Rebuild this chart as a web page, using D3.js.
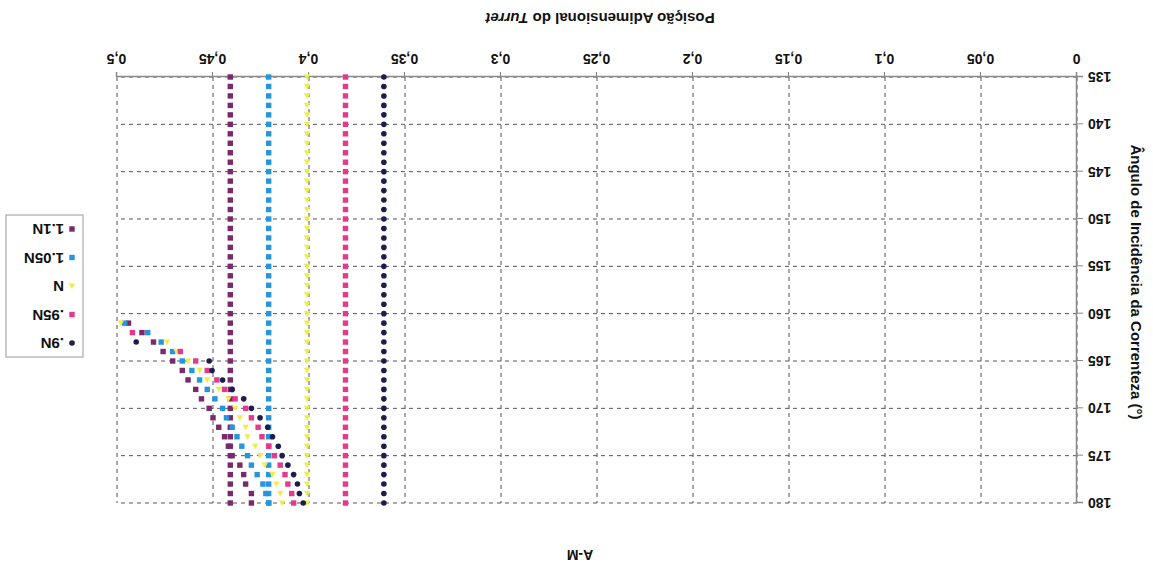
<!DOCTYPE html>
<html>
<head>
<meta charset="utf-8">
<script src="https://cdn.jsdelivr.net/npm/d3@7"></script>
<style>
  body { margin: 0; background: #fff; }
  svg { display: block; }
  text { font-family: "Liberation Sans", Arial, sans-serif; font-weight: bold; fill: #111; }
</style>
</head>
<body>
<svg id="chart" width="1153" height="574"></svg>
<script>
// angles (degrees) of the first branch, 135..180
var angles = [135, 136, 137, 138, 139, 140, 141, 142, 143, 144, 145, 146, 147, 148, 149, 150,
    151, 152, 153, 154, 155, 156, 157, 158, 159, 160, 161, 162, 163, 164, 165, 166, 167, 168,
    169, 170, 171, 172, 173, 174, 175, 176, 177, 178, 179, 180];

// first branch: turret position per angle
var pos90N  = [0.361, 0.361, 0.361, 0.361, 0.361, 0.361, 0.361, 0.361, 0.361, 0.361, 0.361, 0.361,
    0.361, 0.361, 0.361, 0.361, 0.361, 0.361, 0.361, 0.361, 0.361, 0.361, 0.361, 0.361, 0.361, 0.361,
    0.361, 0.361, 0.361, 0.361, 0.361, 0.361, 0.361, 0.361, 0.361, 0.361, 0.361, 0.361, 0.361, 0.361,
    0.361, 0.361, 0.361, 0.361, 0.361, 0.361];
var pos95N  = [0.381, 0.381, 0.381, 0.381, 0.381, 0.381, 0.381, 0.381, 0.381, 0.381, 0.381, 0.381,
    0.381, 0.381, 0.381, 0.381, 0.381, 0.381, 0.381, 0.381, 0.381, 0.381, 0.381, 0.381, 0.381, 0.381,
    0.381, 0.381, 0.381, 0.381, 0.381, 0.381, 0.381, 0.381, 0.381, 0.381, 0.381, 0.381, 0.381, 0.381,
    0.381, 0.381, 0.381, 0.381, 0.381, 0.381];
var posN    = [0.401, 0.401, 0.401, 0.401, 0.401, 0.401, 0.401, 0.401, 0.401, 0.401, 0.401, 0.401,
    0.401, 0.401, 0.401, 0.401, 0.401, 0.401, 0.401, 0.401, 0.401, 0.401, 0.401, 0.401, 0.401, 0.401,
    0.401, 0.401, 0.401, 0.401, 0.401, 0.401, 0.401, 0.401, 0.401, 0.401, 0.401, 0.401, 0.401, 0.401,
    0.401, 0.401, 0.401, 0.401, 0.401, 0.401];
var pos105N = [0.421, 0.421, 0.421, 0.421, 0.421, 0.421, 0.421, 0.421, 0.421, 0.421, 0.421, 0.421,
    0.421, 0.421, 0.421, 0.421, 0.421, 0.421, 0.421, 0.421, 0.421, 0.421, 0.421, 0.421, 0.421, 0.421,
    0.421, 0.421, 0.421, 0.421, 0.421, 0.421, 0.421, 0.421, 0.421, 0.421, 0.421, 0.421, 0.421, 0.421,
    0.421, 0.421, 0.421, 0.421, 0.421, 0.421];
var pos110N = [0.441, 0.441, 0.441, 0.441, 0.441, 0.441, 0.441, 0.441, 0.441, 0.441, 0.441, 0.441,
    0.441, 0.441, 0.441, 0.441, 0.441, 0.441, 0.441, 0.441, 0.441, 0.441, 0.441, 0.441, 0.441, 0.441,
    0.441, 0.441, 0.441, 0.441, 0.441, 0.441, 0.441, 0.441, 0.441, 0.441, 0.441, 0.441, 0.441, 0.441,
    0.441, 0.441, 0.441, 0.441, 0.441, 0.441];

// second branch, 161..180
var anglesB = [161, 162, 163, 164, 165, 166, 167, 168, 169, 170, 171, 172, 173, 174, 175, 176, 177, 178, 179, 180];
var posB90N  = [null, null, 0.490, null, 0.452, 0.4505, 0.445, 0.440, 0.434, 0.430, 0.4255, 0.4215,
    0.419, 0.416, 0.414, 0.411, 0.408, 0.406, 0.405, 0.403];
var posB95N  = [null, 0.492, null, 0.467, 0.459, 0.453, 0.448, 0.444, 0.4385, 0.433, 0.430, 0.4265,
    0.4245, 0.421, 0.418, 0.415, 0.4125, 0.411, 0.409, 0.408];
var posBN    = [0.498, null, 0.474, 0.469, 0.463, 0.457, 0.453, 0.447, 0.442, 0.4385, 0.436, 0.433,
    0.432, 0.428, 0.4255, 0.423, 0.419, 0.417, 0.415, 0.414];
var posB105N = [0.496, 0.484, 0.477, 0.471, 0.466, 0.461, 0.457, 0.453, 0.449, 0.445, 0.443, 0.440,
    0.4375, 0.435, 0.432, 0.430, 0.427, 0.424, 0.4225, 0.421];
var posB110N = [0.494, 0.487, 0.481, 0.476, 0.471, 0.466, 0.463, 0.459, 0.456, 0.452, 0.450, 0.447,
    0.444, 0.442, 0.440, 0.436, 0.434, 0.433, 0.430, 0.430];

var seriesNames = [".9N", ".95N", "N", "1.05N", "1.1N"];
var xTicks = [0, 0.05, 0.1, 0.15, 0.2, 0.25, 0.3, 0.35, 0.4, 0.45, 0.5];
var xTickLabels = ["0", "0,05", "0,1", "0,15", "0,2", "0,25", "0,3", "0,35", "0,4", "0,45", "0,5"];
var yTicks = [135, 140, 145, 150, 155, 160, 165, 170, 175, 180];

var colors = ["#1c1c4e", "#e6388c", "#eeee4a", "#2696dc", "#7a2a6c"];
var shapes = ["circle", "square", "triangle", "square", "square"];

var W = 1153, H = 574;
var svg = d3.select("#chart");
// the scanned page is upside down: draw normally, then turn everything 180 degrees
var g = svg.append("g").attr("transform", "rotate(180," + (W / 2) + "," + (H / 2) + ")");

var x = d3.scaleLinear().domain([0, 0.5]).range([76, 1036]);
var y = d3.scaleLinear().domain([135, 180]).range([497, 71]);

// grid
g.append("g").selectAll("line").data(yTicks).enter().append("line")
    .attr("x1", x(0)).attr("x2", x(0.5))
    .attr("y1", function(d) { return y(d); }).attr("y2", function(d) { return y(d); })
    .attr("stroke", "#555").attr("stroke-dasharray", "4,4");
g.append("g").selectAll("line").data(xTicks).enter().append("line")
    .attr("y1", y(135)).attr("y2", y(180))
    .attr("x1", function(d) { return x(d); }).attr("x2", function(d) { return x(d); })
    .attr("stroke", "#555").attr("stroke-dasharray", "4,4");

// axes
var xAxis = g.append("g").attr("transform", "translate(0," + y(135) + ")")
    .call(d3.axisBottom(x).tickValues(xTicks).tickSize(5)
        .tickFormat(function(d, i) { return xTickLabels[i]; }));
var yAxis = g.append("g").attr("transform", "translate(" + x(0) + ",0)")
    .call(d3.axisLeft(y).tickValues(yTicks).tickSize(6));
[xAxis, yAxis].forEach(function(a) {
    a.select(".domain").attr("stroke", "#888").attr("stroke-width", 1.5);
    a.selectAll(".tick line").attr("stroke", "#888");
    a.selectAll("text").style("font-size", "14px").attr("fill", "#111");
});
xAxis.selectAll("text").attr("dy", "1.1em");
yAxis.selectAll("text").attr("x", -11);

// titles
g.append("text").attr("x", 573).attr("y", 24).attr("text-anchor", "middle")
    .style("font-size", "14px").text("A-M");
var xt = g.append("text").attr("x", 553).attr("y", 561).attr("text-anchor", "middle")
    .style("font-size", "15px");
xt.append("tspan").text("Posição Adimensional do ");
xt.append("tspan").style("font-style", "italic").text("Turret");
g.append("text").attr("transform", "translate(22,292) rotate(-90)")
    .attr("text-anchor", "middle").style("font-size", "15px")
    .text("Ângulo de Incidência da Correnteza (°)");

function drawMarker(sel, shape, color) {
    if (shape == "circle") {
        sel.append("circle").attr("r", 2.8).attr("fill", color);
    } else if (shape == "triangle") {
        sel.append("path").attr("d", "M0,-3.2L3.2,2.6L-3.2,2.6Z").attr("fill", color);
    } else {
        sel.append("rect").attr("x", -2.7).attr("y", -2.7).attr("width", 5.4).attr("height", 5.4).attr("fill", color);
    }
}

var branchA = [pos90N, pos95N, posN, pos105N, pos110N];
var branchB = [posB90N, posB95N, posBN, posB105N, posB110N];
var plot = g.append("g");
// draw last series first so .9N ends on top, as in the scan
for (var s = 4; s >= 0; s--) {
    var pts = [];
    angles.forEach(function(a, i) { pts.push({ a: a, v: branchA[s][i] }); });
    anglesB.forEach(function(a, i) { if (branchB[s][i] != null) pts.push({ a: a, v: branchB[s][i] }); });
    var m = plot.append("g").selectAll("g").data(pts).enter().append("g")
        .attr("transform", function(d) { return "translate(" + x(d.v) + "," + y(d.a) + ")"; });
    drawMarker(m, shapes[s], colors[s]);
}

// legend
var lg = g.append("g").attr("transform", "translate(1070,217)");
lg.append("rect").attr("width", 77).attr("height", 142).attr("fill", "#fff")
    .attr("stroke", "#999");
seriesNames.forEach(function(n, i) {
    var row = lg.append("g").attr("transform", "translate(11," + (14 + i * 28.5) + ")");
    drawMarker(row, shapes[i], colors[i]);
    row.append("text").attr("x", 8).attr("y", 5).style("font-size", "15px").text(n);
});
</script>
</body>
</html>
